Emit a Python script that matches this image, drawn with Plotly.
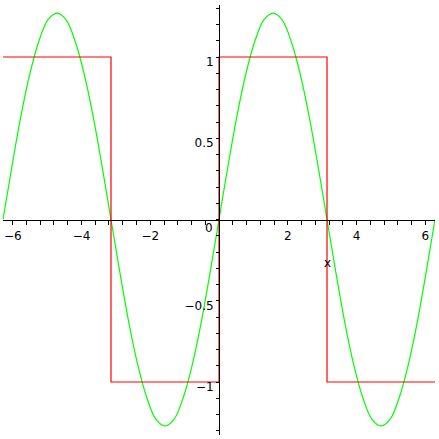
import plotly.graph_objects as go

# Green curve: first Fourier term
curve_x = [-6.283, -6.021, -5.760, -5.498, -5.236, -4.974, -4.712, -4.451, -4.189, -3.927,
           -3.665, -3.403, -3.142, -2.880, -2.618, -2.356, -2.094, -1.833, -1.571, -1.309,
           -1.047, -0.785, -0.524, -0.262, 0.0, 0.262, 0.524, 0.785, 1.047, 1.309, 1.571,
           1.833, 2.094, 2.356, 2.618, 2.880, 3.142, 3.403, 3.665, 3.927, 4.189, 4.451,
           4.712, 4.974, 5.236, 5.498, 5.760, 6.021, 6.283]
curve_y = [0.0, 0.33, 0.64, 0.90, 1.10, 1.23, 1.27, 1.23, 1.10, 0.90,
           0.64, 0.33, 0.0, -0.33, -0.64, -0.90, -1.10, -1.23, -1.27, -1.23,
           -1.10, -0.90, -0.64, -0.33, 0.0, 0.33, 0.64, 0.90, 1.10, 1.23, 1.27,
           1.23, 1.10, 0.90, 0.64, 0.33, 0.0, -0.33, -0.64, -0.90, -1.10, -1.23,
           -1.27, -1.23, -1.10, -0.90, -0.64, -0.33, 0.0]

# Red square wave
square_x = [-6.283, -3.142, -3.142, 0.0, 0.0, 3.142, 3.142, 6.283]
square_y = [1, 1, -1, -1, 1, 1, -1, -1]

x_tickvals = [-6, -4, -2, 2, 4, 6]
x_ticktext = ["\u22126", "\u22124", "\u22122", "2", "4", "6"]
y_tickvals = [-1, -0.5, 0.5, 1]
y_ticktext = ["\u22121", "\u22120.5", "0.5", "1"]

x_range = [-6.2832, 6.2832]
y_range = [-1.326, 1.32]

fig = go.Figure()
fig.add_trace(go.Scatter(x=curve_x, y=curve_y, mode="lines",
                         line=dict(color="#00FF00", width=1.2, shape="spline"),
                         hoverinfo="skip"))
fig.add_trace(go.Scatter(x=square_x, y=square_y, mode="lines",
                         line=dict(color="#FF0000", width=1.2),
                         hoverinfo="skip"))

font = dict(family="DejaVu Sans", size=12, color="black")

x_pos = (0 - y_range[0]) / (y_range[1] - y_range[0])
y_pos = (0 - x_range[0]) / (x_range[1] - x_range[0])

fig.update_layout(
    width=439, height=439,
    margin=dict(l=3, r=4, t=5, b=4),
    paper_bgcolor="white", plot_bgcolor="white",
    showlegend=False,
    font=font,
    xaxis=dict(range=x_range, anchor="free", position=x_pos,
               showgrid=False, zeroline=False, showline=True,
               linecolor="black", linewidth=1,
               tickmode="array", tickvals=x_tickvals, ticktext=x_ticktext,
               ticks="outside", ticklen=4, tickcolor="black", tickwidth=1,
               tickfont=font, ticklabelstandoff=1,
               minor=dict(tickmode="linear", tick0=0, dtick=0.4, ticks="outside",
                          ticklen=4, tickcolor="black", tickwidth=1, showgrid=False),
               automargin=False, layer="above traces"),
    yaxis=dict(range=y_range, anchor="free", position=y_pos,
               showgrid=False, zeroline=False, showline=True,
               linecolor="black", linewidth=1,
               tickmode="array", tickvals=y_tickvals, ticktext=y_ticktext,
               ticks="outside", ticklen=3, tickcolor="black", tickwidth=1,
               tickfont=font, ticklabelshift=5,
               minor=dict(tickmode="linear", tick0=0, dtick=0.1, ticks="outside",
                          ticklen=3, tickcolor="black", tickwidth=1, showgrid=False),
               automargin=False, layer="above traces"),
    annotations=[
        dict(text="0", xref="paper", yref="paper", x=0.4769, y=0.4814,
             showarrow=False, font=font, xanchor="center", yanchor="middle"),
        dict(text="x", xref="paper", yref="paper", x=0.75, y=0.40,
             showarrow=False, font=font, xanchor="center", yanchor="middle"),
    ],
)

fig.write_html("out.html",
               config={"displayModeBar": False},
               post_script="document.body.style.margin='0';document.body.style.overflow='hidden';")
